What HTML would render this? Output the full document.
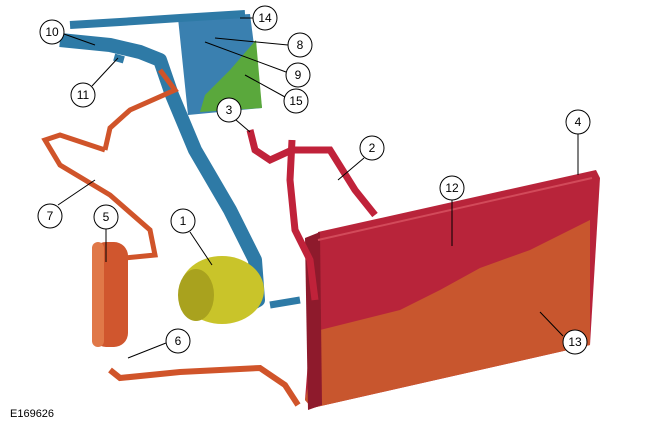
<!DOCTYPE html>
<html><head><meta charset="utf-8"><style>
html,body{margin:0;padding:0;background:#fff;}
svg{display:block;}
text{font-family:"Liberation Sans",sans-serif;}
</style></head><body>
<svg width="650" height="426" viewBox="0 0 650 426" xmlns="http://www.w3.org/2000/svg">
<!-- condenser -->
<polygon points="318,232 596,170 600,178 590,345 312,408 305,400" fill="#b8243a"/>
<polygon points="305,400 320,330 400,310 440,290 480,268 530,250 590,220 590,345 312,408" fill="#c8562e"/>
<polygon points="305,238 320,232 322,405 308,410" fill="#8e1a2c"/>
<line x1="318" y1="240" x2="592" y2="178" stroke="#d24a5a" stroke-width="2"/>
<!-- evaporator -->
<polygon points="178,18 250,14 262,108 188,115" fill="#3a80b0"/>
<polygon points="200,112 262,108 256,40 230,70 205,95" fill="#5aa83c"/>
<!-- blue pipes -->
<path d="M60,40 L110,45 L140,52 L160,60 L172,95 L195,150 L230,210 L255,260 L258,300 L240,310" stroke="#2e7aa6" stroke-width="14" fill="none" stroke-linejoin="round"/>
<path d="M70,25 L120,22 L180,18 L245,14" stroke="#2e7aa6" stroke-width="8" fill="none"/>
<path d="M120,55 L118,62" stroke="#2e7aa6" stroke-width="10"/>
<path d="M270,305 L300,300" stroke="#2e7aa6" stroke-width="7"/>
<!-- compressor -->
<ellipse cx="222" cy="290" rx="42" ry="34" fill="#c9c42a"/>
<ellipse cx="196" cy="295" rx="18" ry="26" fill="#a9a21e"/>
<!-- orange pipes -->
<path d="M160,70 L175,90 L130,110 L110,128 L105,150 M105,150 L60,135 L45,140 L60,165 L110,195 L150,230 L155,255 L125,258" stroke="#d0542a" stroke-width="5" fill="none"/>
<path d="M110,370 L120,378 L180,372 L260,368 L285,385 L298,405" stroke="#d0542a" stroke-width="6" fill="none"/>
<rect x="92" y="242" width="36" height="105" rx="14" fill="#d0562e"/>
<rect x="92" y="242" width="12" height="105" rx="6" fill="#e07848"/>
<!-- red pipes -->
<path d="M250,130 L255,150 L270,160 L292,150 L330,150 L355,190 L375,215" stroke="#c0223a" stroke-width="7" fill="none"/>
<path d="M292,140 L290,180 L295,230 L310,260 L315,300" stroke="#c0223a" stroke-width="7" fill="none"/>
<!-- leaders -->
<g stroke="#000" stroke-width="1" fill="none">
<line x1="64" y1="34" x2="95" y2="45"/><line x1="92" y1="86" x2="118" y2="58"/>
<line x1="253" y1="18" x2="240" y2="18"/><line x1="288" y1="45" x2="215" y2="38"/>
<line x1="286" y1="72" x2="205" y2="42"/><line x1="285" y1="97" x2="245" y2="75"/>
<line x1="236" y1="120" x2="250" y2="132"/><line x1="364" y1="158" x2="338" y2="180"/>
<line x1="578" y1="134" x2="578" y2="175"/><line x1="452" y1="200" x2="452" y2="246"/>
<line x1="58" y1="205" x2="95" y2="180"/><line x1="106" y1="229" x2="106" y2="262"/>
<line x1="190" y1="232" x2="212" y2="265"/><line x1="166" y1="343" x2="128" y2="358"/>
<line x1="563" y1="336" x2="540" y2="312"/>
</g>
<g fill="#fff" stroke="#000" stroke-width="1">
<circle cx="52" cy="32" r="12"/><circle cx="83" cy="95" r="12"/><circle cx="265" cy="18" r="12"/>
<circle cx="300" cy="45" r="12"/><circle cx="298" cy="75" r="12"/><circle cx="296" cy="101" r="12"/>
<circle cx="229" cy="110" r="12"/><circle cx="372" cy="148" r="12"/><circle cx="578" cy="122" r="12"/>
<circle cx="452" cy="188" r="12"/><circle cx="50" cy="216" r="12"/><circle cx="106" cy="217" r="12"/>
<circle cx="183" cy="221" r="12"/><circle cx="178" cy="341" r="12"/><circle cx="575" cy="342" r="12"/>
</g>
<g font-size="12" text-anchor="middle" fill="#000">
<text x="52" y="36">10</text><text x="83" y="99">11</text><text x="265" y="22">14</text>
<text x="300" y="49">8</text><text x="298" y="79">9</text><text x="296" y="105">15</text>
<text x="229" y="114">3</text><text x="372" y="152">2</text><text x="578" y="126">4</text>
<text x="452" y="192">12</text><text x="50" y="220">7</text><text x="106" y="221">5</text>
<text x="183" y="225">1</text><text x="178" y="345">6</text><text x="575" y="346">13</text>
</g>
<text x="10" y="417" font-size="11">E169626</text>
</svg>
</body></html>
